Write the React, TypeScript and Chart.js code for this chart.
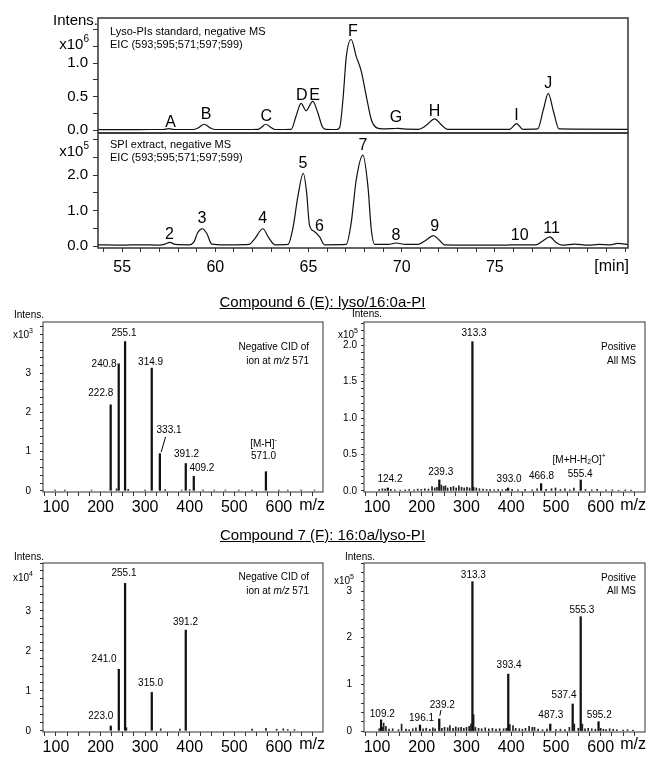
import React, { useEffect, useRef } from "react";
import { Chart, registerables } from "chart.js";

Chart.register(...registerables);

const FONT = "'Liberation Sans', Arial, Helvetica, sans-serif";
const INK = "#111111";
const FRAME = "#333333";

// ---------- Chromatogram 1: Lyso-PIs standard (x10^6) ----------
const stdTime = [53.7, 55.0, 56.5, 57.2, 57.5, 57.8, 58.8, 59.1, 59.4, 59.7, 60.0, 61.5, 62.3, 62.5, 62.7, 62.95, 63.2, 64.07, 64.33, 64.6, 64.87, 65.23, 65.5, 65.75, 65.95, 66.5, 66.67, 66.85, 67.03, 67.29, 67.56, 67.83, 68.1, 68.37, 68.64, 69.0, 69.5, 69.8, 70.1, 70.9, 71.3, 71.77, 72.1, 72.45, 75.8, 76.17, 76.5, 77.3, 77.6, 77.87, 78.15, 78.45, 82.2];
const stdIntensity = [0.01, 0.01, 0.012, 0.012, 0.025, 0.012, 0.012, 0.04, 0.09, 0.04, 0.012, 0.012, 0.015, 0.05, 0.09, 0.05, 0.012, 0.015, 0.21, 0.40, 0.29, 0.43, 0.26, 0.05, 0.015, 0.012, 0.04, 0.46, 1.10, 1.35, 1.10, 0.88, 0.51, 0.16, 0.04, 0.02, 0.025, 0.03, 0.02, 0.015, 0.07, 0.17, 0.09, 0.015, 0.015, 0.10, 0.015, 0.02, 0.30, 0.55, 0.28, 0.02, 0.015];
const stdPeakNames = ["A", "B", "C", "D", "E", "F", "G", "H", "I", "J"];
const stdPeakTime = [57.6, 59.5, 62.73, 64.64, 65.32, 67.38, 69.7, 71.77, 76.17, 77.87];
const stdPeakLevel = [0.11, 0.24, 0.2, 0.52, 0.52, 1.47, 0.19, 0.285, 0.22, 0.7];

// ---------- Chromatogram 2: SPI extract (x10^5) ----------
const spiTime = [53.7, 55.0, 56.0, 57.0, 57.3, 57.55, 57.85, 58.6, 58.85, 59.05, 59.3, 59.55, 59.8, 60.5, 61.0, 61.8, 62.1, 62.55, 62.85, 63.2, 63.9, 64.16, 64.43, 64.72, 64.9, 65.05, 65.3, 65.6, 65.86, 67.02, 67.29, 67.56, 67.92, 68.19, 68.37, 68.55, 69.3, 69.7, 70.2, 70.9, 71.3, 71.7, 72.0, 72.3, 75.5, 76.2, 77.2, 77.55, 77.95, 78.3, 78.6, 79.3, 80.0, 80.6, 81.2, 81.6, 82.2];
const spiIntensity = [0.04, 0.03, 0.04, 0.03, 0.06, 0.11, 0.05, 0.04, 0.12, 0.38, 0.49, 0.35, 0.06, 0.04, 0.04, 0.05, 0.2, 0.49, 0.25, 0.04, 0.05, 0.5, 1.4, 2.05, 1.5, 0.6, 0.42, 0.26, 0.04, 0.05, 0.65, 1.86, 2.56, 1.68, 0.47, 0.05, 0.05, 0.09, 0.05, 0.05, 0.17, 0.30, 0.18, 0.04, 0.03, 0.04, 0.04, 0.14, 0.26, 0.1, 0.03, 0.06, 0.03, 0.05, 0.04, 0.08, 0.04];
const spiPeakNames = ["2", "3", "4", "5", "6", "7", "8", "9", "10", "11"];
const spiPeakTime = [57.53, 59.28, 62.54, 64.7, 65.59, 67.92, 69.7, 71.77, 76.34, 78.05];
const spiPeakLevel = [0.33, 0.77, 0.77, 2.33, 0.56, 2.84, 0.3, 0.56, 0.3, 0.49];

// ---------- Spectrum A: compound 6, negative CID (x10^3) ----------
const c6NegMz = [222.8, 240.8, 255.1, 314.9, 333.1, 391.2, 409.2, 571.0];
const c6NegInt = [2.2, 3.25, 3.82, 3.14, 0.95, 0.7, 0.37, 0.49];
const c6NegNoiseMz = [98, 120, 180, 236, 262, 300, 345, 382, 400, 430, 455, 480, 510, 540, 600, 620, 650, 680];
const c6NegNoiseInt = [0.02, 0.02, 0.02, 0.05, 0.04, 0.02, 0.03, 0.02, 0.03, 0.02, 0.02, 0.02, 0.02, 0.02, 0.02, 0.02, 0.02, 0.02];
const c6NegLabels = ["255.1", "240.8", "314.9", "222.8", "333.1", "391.2", "409.2", "571.0"];
const c6NegLabelMz = [252.7, 208, 312.3, 200.6, 353.7, 392.8, 427.4, 565.6];
const c6NegLabelLevel = [4.02, 3.24, 3.3, 2.49, 1.56, 0.94, 0.58, 0.875];

// ---------- Spectrum B: compound 6, positive all MS (x10^5) ----------
const c6PosMz = [124.2, 239.3, 313.3, 393.0, 466.8, 555.4];
const c6PosInt = [0.04, 0.15, 2.05, 0.04, 0.1, 0.15];
const c6PosNoiseMz = [105, 112, 118, 131, 140, 152, 163, 172, 183, 191, 199, 207, 215, 223, 229, 234, 244, 249, 253, 258, 265, 271, 277, 283, 289, 295, 301, 307, 316, 322, 329, 337, 345, 353, 362, 371, 380, 388, 402, 415, 431, 447, 458, 478, 490, 499, 510, 520, 531, 540, 566, 580, 592, 612, 626, 640, 655, 668];
const c6PosNoiseInt = [0.02, 0.03, 0.025, 0.02, 0.015, 0.01, 0.015, 0.02, 0.015, 0.025, 0.02, 0.03, 0.025, 0.06, 0.04, 0.05, 0.08, 0.06, 0.07, 0.04, 0.05, 0.06, 0.04, 0.07, 0.05, 0.04, 0.05, 0.04, 0.05, 0.04, 0.03, 0.025, 0.02, 0.02, 0.015, 0.02, 0.015, 0.02, 0.02, 0.015, 0.02, 0.015, 0.03, 0.02, 0.03, 0.04, 0.02, 0.03, 0.015, 0.04, 0.02, 0.015, 0.02, 0.015, 0.015, 0.01, 0.015, 0.01];
const c6PosLabels = ["313.3", "239.3", "124.2", "393.0", "466.8", "555.4"];
const c6PosLabelMz = [317, 242.5, 129, 395.3, 467.6, 554.1];
const c6PosLabelLevel = [2.17, 0.256, 0.16, 0.16, 0.205, 0.23];

// ---------- Spectrum C: compound 7, negative CID (x10^4) ----------
const c7NegMz = [223.0, 241.0, 255.1, 315.0, 391.2];
const c7NegInt = [0.12, 1.54, 3.69, 0.96, 2.52];
const c7NegNoiseMz = [258, 335, 378, 540, 571, 595, 610, 620, 635];
const c7NegNoiseInt = [0.08, 0.05, 0.04, 0.04, 0.06, 0.04, 0.05, 0.03, 0.03];
const c7NegLabels = ["255.1", "241.0", "391.2", "315.0", "223.0"];
const c7NegLabelMz = [252.7, 208, 390.6, 312.3, 200.6];
const c7NegLabelLevel = [3.94, 1.78, 2.71, 1.19, 0.36];

// ---------- Spectrum D: compound 7, positive all MS (x10^5) ----------
const c7PosMz = [109.2, 196.1, 239.2, 313.3, 393.4, 487.3, 537.4, 555.3, 595.2];
const c7PosInt = [0.24, 0.13, 0.26, 3.2, 1.22, 0.15, 0.58, 2.45, 0.2];
const c7PosNoiseMz = [105, 112, 115, 120, 127, 135, 148, 155, 165, 172, 180, 187, 203, 210, 218, 225, 230, 245, 251, 258, 263, 270, 276, 282, 288, 294, 300, 306, 310, 316, 320, 327, 334, 342, 350, 358, 366, 374, 383, 389, 397, 404, 410, 418, 425, 432, 440, 447, 452, 460, 470, 480, 500, 510, 520, 530, 541, 550, 559, 565, 572, 580, 588, 600, 606, 612, 620, 628, 636, 650, 660, 672];
const c7PosNoiseInt = [0.05, 0.08, 0.17, 0.1, 0.04, 0.05, 0.03, 0.15, 0.04, 0.03, 0.05, 0.07, 0.05, 0.06, 0.04, 0.07, 0.05, 0.06, 0.08, 0.07, 0.12, 0.06, 0.09, 0.07, 0.08, 0.06, 0.08, 0.1, 0.15, 0.35, 0.08, 0.06, 0.05, 0.07, 0.05, 0.06, 0.04, 0.05, 0.05, 0.06, 0.14, 0.12, 0.06, 0.05, 0.04, 0.06, 0.1, 0.08, 0.08, 0.04, 0.03, 0.04, 0.03, 0.04, 0.03, 0.08, 0.15, 0.06, 0.15, 0.05, 0.06, 0.05, 0.04, 0.06, 0.04, 0.03, 0.05, 0.04, 0.03, 0.02, 0.03, 0.02];
const c7PosLabels = ["313.3", "555.3", "393.4", "537.4", "487.3", "595.2", "239.2", "196.1", "109.2"];
const c7PosLabelMz = [315.4, 558, 395.3, 518, 488.6, 596.6, 246, 199.6, 111.9];
const c7PosLabelLevel = [3.34, 2.59, 1.4, 0.76, 0.34, 0.34, 0.56, 0.285, 0.36];

const mzTickValues = [100, 200, 300, 400, 500, 600];
const minTickValues = [55, 60, 65, 70, 75];

// ---------- helpers ----------
type Seg = { t: string; s?: "sup" | "sub" | "i" };

function rich(ctx: CanvasRenderingContext2D, segs: Seg[], x: number, y: number, size: number, align: "left" | "center" | "right" = "center") {
  const fontFor = (s?: string) =>
    s === "i" ? `italic ${size}px ${FONT}` : s === "sup" || s === "sub" ? `${Math.round(size * 0.68)}px ${FONT}` : `${size}px ${FONT}`;
  const widths = segs.map((seg) => {
    ctx.font = fontFor(seg.s);
    return ctx.measureText(seg.t).width;
  });
  const total = widths.reduce((a, b) => a + b, 0);
  let cx = align === "center" ? x - total / 2 : align === "right" ? x - total : x;
  ctx.textAlign = "left";
  ctx.textBaseline = "middle";
  ctx.fillStyle = "#000";
  segs.forEach((seg, i) => {
    ctx.font = fontFor(seg.s);
    const dy = seg.s === "sup" ? -size * 0.38 : seg.s === "sub" ? size * 0.22 : 0;
    ctx.fillText(seg.t, cx, y + dy);
    cx += widths[i];
  });
}

function txt(ctx: CanvasRenderingContext2D, t: string, x: number, y: number, size: number, align: "left" | "center" | "right" = "center") {
  rich(ctx, [{ t }], x, y, size, align);
}

const pts = (xs: number[], ys: number[]) => xs.map((x, i) => ({ x, y: ys[i] }));

function overlay(lw: number, ox: number, oy: number, draw: (ctx: CanvasRenderingContext2D, c: any, P: (x: number, y: number) => [number, number]) => void) {
  return {
    id: "overlay",
    afterDraw(chart: any) {
      const ctx = chart.ctx as CanvasRenderingContext2D;
      const a = chart.chartArea;
      ctx.save();
      ctx.strokeStyle = FRAME;
      ctx.lineWidth = lw;
      ctx.strokeRect(a.left, a.top, a.right - a.left, a.bottom - a.top);
      const P = (x: number, y: number): [number, number] => [x - ox, y - oy];
      draw(ctx, chart, P);
      ctx.restore();
    },
  };
}

function yAxis(min: number, max: number, step: number, width: number, fmt: (v: number) => string, size: number, tickLen: number, pad: number) {
  return {
    type: "linear",
    min,
    max,
    afterFit: (s: any) => {
      s.width = width;
    },
    border: { display: false },
    grid: { display: true, drawOnChartArea: false, drawTicks: true, tickLength: tickLen, color: FRAME, lineWidth: 1 },
    ticks: { stepSize: step, includeBounds: false, autoSkip: false, callback: (v: any) => fmt(Number(v)), font: { family: FONT, size }, color: "#000", padding: pad },
  };
}

function xAxis(min: number, max: number, step: number, height: number, labels: number[], size: number, tickLen: number, pad: number) {
  return {
    type: "linear",
    min,
    max,
    offset: false,
    afterFit: (s: any) => {
      s.height = height;
    },
    border: { display: false },
    grid: { display: true, offset: false, drawOnChartArea: false, drawTicks: true, tickLength: tickLen, color: FRAME, lineWidth: 1 },
    ticks: {
      stepSize: step,
      includeBounds: false,
      autoSkip: false,
      maxRotation: 0,
      callback: (v: any) => (labels.some((l) => Math.abs(l - Number(v)) < 1e-6) ? String(Math.round(Number(v))) : ""),
      font: { family: FONT, size },
      color: "#000",
      padding: pad,
    },
  };
}

const baseOptions = (padding: any) => ({
  animation: false,
  responsive: false,
  maintainAspectRatio: false,
  devicePixelRatio: 1,
  events: [] as any[],
  layout: { padding },
  plugins: { legend: { display: false }, tooltip: { enabled: false } },
});

const isMult = (v: number, m: number) => Math.abs(v / m - Math.round(v / m)) < 1e-6;

// ---------- chart configs ----------
function chromTopConfig(): any {
  return {
    type: "line",
    data: { datasets: [{ data: pts(stdTime, stdIntensity), borderColor: INK, borderWidth: 1.2, pointRadius: 0, cubicInterpolationMode: "monotone", fill: false }] },
    options: {
      ...baseOptions({ left: 0, top: 18, right: 12, bottom: 17 }),
      scales: {
        x: { type: "linear", display: false, min: 53.7, max: 82.15 },
        y: yAxis(-0.04, 1.67, 0.25, 98, (v) => (v >= -1e-6 && v <= 1.0001 && isMult(v, 0.5) ? v.toFixed(1) : ""), 15, 5, 5),
      },
    },
    plugins: [
      overlay(1.5, 0, 0, (ctx, c, P) => {
        const xs = c.scales.x, ys = c.scales.y;
        stdPeakNames.forEach((n, i) => txt(ctx, n, xs.getPixelForValue(stdPeakTime[i]), ys.getPixelForValue(stdPeakLevel[i]), 16));
        txt(ctx, "Lyso-PIs standard, negative MS", ...P(110, 32), 11, "left");
        txt(ctx, "EIC (593;595;571;597;599)", ...P(110, 45), 11, "left");
        txt(ctx, "Intens.", ...P(53, 21), 15, "left");
        rich(ctx, [{ t: "x10" }, { t: "6", s: "sup" }], ...P(89, 45), 15, "right");
      }),
    ],
  };
}

const CHROM2_TOP = 115;

function chromBottomConfig(): any {
  const oy = CHROM2_TOP;
  return {
    type: "line",
    data: { datasets: [{ data: pts(spiTime, spiIntensity), borderColor: INK, borderWidth: 1.2, pointRadius: 0, cubicInterpolationMode: "monotone", fill: false }] },
    options: {
      ...baseOptions({ left: 0, top: 18, right: 12, bottom: 0 }),
      scales: {
        x: xAxis(53.7, 82.15, 1, 35, minTickValues, 16, 4, 6),
        y: yAxis(-0.05, 3.18, 0.5, 98, (v) => (v >= -1e-6 && v <= 2.0001 && isMult(v, 1) ? v.toFixed(1) : ""), 15, 5, 5),
      },
    },
    plugins: [
      overlay(1.5, 0, oy, (ctx, c, P) => {
        const xs = c.scales.x, ys = c.scales.y;
        spiPeakNames.forEach((n, i) => txt(ctx, n, xs.getPixelForValue(spiPeakTime[i]), ys.getPixelForValue(spiPeakLevel[i]), 16));
        txt(ctx, "SPI extract, negative MS", ...P(110, 145), 11, "left");
        txt(ctx, "EIC (593;595;571;597;599)", ...P(110, 158), 11, "left");
        rich(ctx, [{ t: "x10" }, { t: "5", s: "sup" }], ...P(89, 152), 15, "right");
        txt(ctx, "[min]", ...P(629, 267), 16, "right");
      }),
    ],
  };
}

type SpecSpec = {
  mz: number[];
  int: number[];
  noiseMz: number[];
  noiseInt: number[];
  labels: string[];
  labelMz: number[];
  labelLevel: number[];
  yMin: number;
  yMax: number;
  yStep: number;
  yFmt: (v: number) => string;
  yWidth: number;
  yPad: number;
  padTop: number;
  padRight: number;
  xHeight: number;
  ox: number;
  oy: number;
  extra: (ctx: CanvasRenderingContext2D, c: any, P: (x: number, y: number) => [number, number]) => void;
};

function spectrumConfig(s: SpecSpec): any {
  return {
    type: "bar",
    data: {
      datasets: [
        { data: pts(s.mz, s.int), backgroundColor: INK, borderWidth: 0, barThickness: 1.6, grouped: false },
        { data: pts(s.noiseMz, s.noiseInt), backgroundColor: "#222", borderWidth: 0, barThickness: 1, grouped: false },
      ],
    },
    options: {
      ...baseOptions({ left: 0, top: s.padTop, right: s.padRight, bottom: 0 }),
      scales: {
        x: xAxis(71, 699, 25, s.xHeight, mzTickValues, 16, 4, 2),
        y: yAxis(s.yMin, s.yMax, s.yStep, s.yWidth, s.yFmt, 10, 3, s.yPad),
      },
    },
    plugins: [
      overlay(1, s.ox, s.oy, (ctx, c, P) => {
        const xs = c.scales.x, ys = c.scales.y;
        s.labels.forEach((t, i) => txt(ctx, t, xs.getPixelForValue(s.labelMz[i]), ys.getPixelForValue(s.labelLevel[i]), 10));
        s.extra(ctx, c, P);
      }),
    ],
  };
}

const intFmt = (v: number) => (v >= -1e-6 && v <= 3.0001 && isMult(v, 1) ? String(Math.round(v)) : "");
const halfFmt = (v: number) => (v >= -1e-6 && v <= 2.0001 && isMult(v, 0.5) ? v.toFixed(1) : "");

function specA(): any {
  return spectrumConfig({
    mz: c6NegMz, int: c6NegInt, noiseMz: c6NegNoiseMz, noiseInt: c6NegNoiseInt,
    labels: c6NegLabels, labelMz: c6NegLabelMz, labelLevel: c6NegLabelLevel,
    yMin: -0.03, yMax: 4.32, yStep: 0.2, yFmt: intFmt, yWidth: 43, yPad: 9,
    padTop: 22, padRight: 7, xHeight: 30, ox: 0, oy: 300,
    extra: (ctx, c, P) => {
      const xs = c.scales.x, ys = c.scales.y;
      rich(ctx, [{ t: "[M-H]" }, { t: "-", s: "sup" }], xs.getPixelForValue(565.6), ys.getPixelForValue(1.2), 10);
      ctx.strokeStyle = "#000";
      ctx.lineWidth = 1;
      ctx.beginPath();
      ctx.moveTo(xs.getPixelForValue(345.9), ys.getPixelForValue(1.38));
      ctx.lineTo(xs.getPixelForValue(336), ys.getPixelForValue(0.99));
      ctx.stroke();
      txt(ctx, "Negative CID of", ...P(309, 347), 10, "right");
      rich(ctx, [{ t: "ion at " }, { t: "m/z", s: "i" }, { t: " 571" }], ...P(309, 361), 10, "right");
      txt(ctx, "Intens.", ...P(14, 315), 10, "left");
      rich(ctx, [{ t: "x10" }, { t: "3", s: "sup" }], ...P(33, 335), 10, "right");
      txt(ctx, "m/z", ...P(325, 506), 16, "right");
    },
  });
}

function specB(): any {
  return spectrumConfig({
    mz: c6PosMz, int: c6PosInt, noiseMz: c6PosNoiseMz, noiseInt: c6PosNoiseInt,
    labels: c6PosLabels, labelMz: c6PosLabelMz, labelLevel: c6PosLabelLevel,
    yMin: -0.015, yMax: 2.32, yStep: 0.1, yFmt: halfFmt, yWidth: 34, yPad: 4,
    padTop: 22, padRight: 2, xHeight: 30, ox: 330, oy: 300,
    extra: (ctx, c, P) => {
      const xs = c.scales.x, ys = c.scales.y;
      rich(ctx, [{ t: "[M+H-H" }, { t: "2", s: "sub" }, { t: "O]" }, { t: "+", s: "sup" }], xs.getPixelForValue(552), ys.getPixelForValue(0.42), 10);
      txt(ctx, "Positive", ...P(636, 347), 10, "right");
      txt(ctx, "All MS", ...P(636, 361), 10, "right");
      txt(ctx, "Intens.", ...P(352, 314), 10, "left");
      rich(ctx, [{ t: "x10" }, { t: "5", s: "sup" }], ...P(358, 335), 10, "right");
      txt(ctx, "m/z", ...P(646, 506), 16, "right");
    },
  });
}

function specC(): any {
  return spectrumConfig({
    mz: c7NegMz, int: c7NegInt, noiseMz: c7NegNoiseMz, noiseInt: c7NegNoiseInt,
    labels: c7NegLabels, labelMz: c7NegLabelMz, labelLevel: c7NegLabelLevel,
    yMin: -0.03, yMax: 4.2, yStep: 0.2, yFmt: intFmt, yWidth: 43, yPad: 9,
    padTop: 22, padRight: 7, xHeight: 27, ox: 0, oy: 541,
    extra: (ctx, c, P) => {
      txt(ctx, "Negative CID of", ...P(309, 577), 10, "right");
      rich(ctx, [{ t: "ion at " }, { t: "m/z", s: "i" }, { t: " 571" }], ...P(309, 591), 10, "right");
      txt(ctx, "Intens.", ...P(14, 557), 10, "left");
      rich(ctx, [{ t: "x10" }, { t: "4", s: "sup" }], ...P(33, 578), 10, "right");
      txt(ctx, "m/z", ...P(325, 745), 16, "right");
    },
  });
}

function specD(): any {
  return spectrumConfig({
    mz: c7PosMz, int: c7PosInt, noiseMz: c7PosNoiseMz, noiseInt: c7PosNoiseInt,
    labels: c7PosLabels, labelMz: c7PosLabelMz, labelLevel: c7PosLabelLevel,
    yMin: -0.02, yMax: 3.6, yStep: 0.2, yFmt: intFmt, yWidth: 34, yPad: 9,
    padTop: 22, padRight: 2, xHeight: 27, ox: 330, oy: 541,
    extra: (ctx, c, P) => {
      const xs = c.scales.x, ys = c.scales.y;
      ctx.strokeStyle = "#000";
      ctx.lineWidth = 1;
      ctx.beginPath();
      ctx.moveTo(xs.getPixelForValue(240.5), ys.getPixelForValue(0.33));
      ctx.lineTo(xs.getPixelForValue(243), ys.getPixelForValue(0.45));
      ctx.stroke();
      txt(ctx, "Positive", ...P(636, 578), 10, "right");
      txt(ctx, "All MS", ...P(636, 591), 10, "right");
      txt(ctx, "Intens.", ...P(345, 557), 10, "left");
      rich(ctx, [{ t: "x10" }, { t: "5", s: "sup" }], ...P(354, 581), 10, "right");
      txt(ctx, "m/z", ...P(646, 745), 16, "right");
    },
  });
}

function ChartCanvas(props: { left: number; top: number; width: number; height: number; make: () => any }) {
  const ref = useRef<HTMLCanvasElement>(null);
  useEffect(() => {
    const chart = new Chart(ref.current as HTMLCanvasElement, props.make());
    return () => chart.destroy();
  }, []);
  return (
    <canvas
      ref={ref}
      width={props.width}
      height={props.height}
      style={{ position: "absolute", left: props.left, top: props.top, width: props.width, height: props.height, display: "block" }}
    />
  );
}

const titleStyle: React.CSSProperties = {
  position: "absolute",
  left: 0,
  width: 645,
  textAlign: "center",
  fontFamily: FONT,
  fontSize: 15,
  lineHeight: "18px",
  color: "#000",
  textDecoration: "underline",
  whiteSpace: "nowrap",
};

export default function App() {
  return (
    <div style={{ position: "absolute", left: 0, top: 0, width: 647, height: 759, background: "#fff", overflow: "hidden" }}>
      <ChartCanvas left={0} top={0} width={640} height={150} make={chromTopConfig} />
      <ChartCanvas left={0} top={CHROM2_TOP} width={640} height={168} make={chromBottomConfig} />
      <div style={{ ...titleStyle, top: 293 }}>Compound 6 (E): lyso/16:0a-PI</div>
      <ChartCanvas left={0} top={300} width={330} height={222} make={specA} />
      <ChartCanvas left={330} top={300} width={317} height={222} make={specB} />
      <div style={{ ...titleStyle, top: 526 }}>Compound 7 (F): 16:0a/lyso-PI</div>
      <ChartCanvas left={0} top={541} width={330} height={218} make={specC} />
      <ChartCanvas left={330} top={541} width={317} height={218} make={specD} />
    </div>
  );
}
